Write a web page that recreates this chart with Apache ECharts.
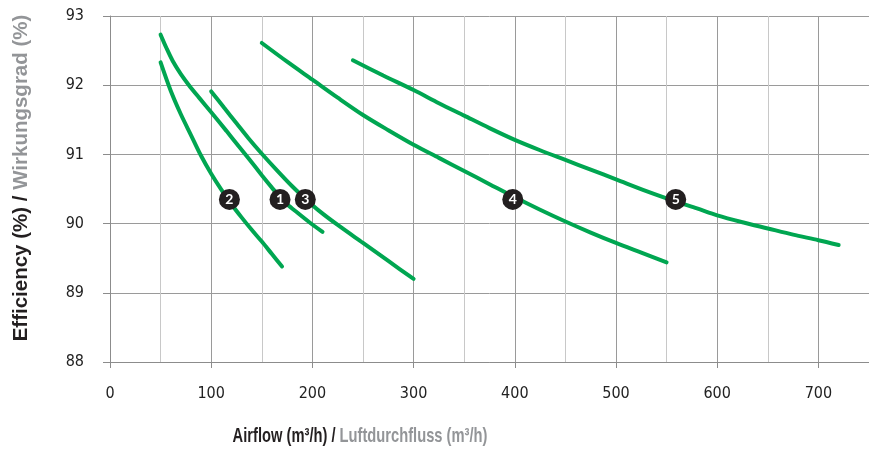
<!DOCTYPE html>
<html><head><meta charset="utf-8">
<script src="https://cdn.jsdelivr.net/npm/echarts@6/dist/echarts.min.js"></script>
<style>html,body{margin:0;padding:0;background:#fff}#c{width:869px;height:450px}</style>
</head><body><div id="c"></div>
<script>
// Curve data (Airflow m3/h, Efficiency %)
const curve1X = [50, 56, 62, 70, 78, 88, 100, 115, 127, 137, 150, 160, 168, 175, 185, 197, 210];
const curve1Y = [92.73, 92.53, 92.35, 92.16, 92.0, 91.82, 91.61, 91.34, 91.12, 90.94, 90.7, 90.52, 90.38, 90.28, 90.16, 90.02, 89.88];
const curve2X = [50, 60, 70, 80, 90, 100, 110, 120, 130, 140, 150, 160, 170];
const curve2Y = [92.33, 91.92, 91.58, 91.28, 90.98, 90.72, 90.49, 90.28, 90.09, 89.91, 89.74, 89.56, 89.38];
const curve3X = [100, 113, 125, 137, 150, 165, 180, 193, 207, 225, 250, 275, 300];
const curve3Y = [91.91, 91.67, 91.45, 91.23, 91.01, 90.77, 90.54, 90.36, 90.18, 89.98, 89.72, 89.46, 89.2];
const curve4X = [150, 175, 200, 225, 250, 275, 300, 325, 350, 375, 400, 425, 450, 475, 500, 525, 550];
const curve4Y = [92.61, 92.34, 92.08, 91.82, 91.57, 91.35, 91.14, 90.95, 90.76, 90.57, 90.38, 90.2, 90.03, 89.87, 89.72, 89.58, 89.44];
const curve5X = [240, 270, 300, 325, 350, 375, 400, 425, 450, 475, 500, 530, 559, 580, 600, 625, 650, 675, 700, 720];
const curve5Y = [92.36, 92.14, 91.93, 91.74, 91.56, 91.38, 91.21, 91.06, 90.92, 90.78, 90.64, 90.47, 90.32, 90.22, 90.12, 90.02, 89.93, 89.84, 89.76, 89.69];

// Numbered markers
const markerLabels = ['1', '2', '3', '4', '5'];
const markerX = [168, 118, 193, 398, 559];
const markerY = [90.35, 90.35, 90.35, 90.35, 90.35];

// Axis texts
const xTitleMain = 'Airflow (m³/h) / ';
const xTitleSub = 'Luftdurchfluss (m³/h)';
const yTitleMain = 'Efficiency (%) / ';
const yTitleSub = 'Wirkungsgrad (%)';

const zip = (xs, ys) => xs.map((x, i) => [x, ys[i]]);
const curves = [zip(curve1X, curve1Y), zip(curve2X, curve2Y), zip(curve3X, curve3Y), zip(curve4X, curve4Y), zip(curve5X, curve5Y)];

const GREEN = '#00a651';
const labelFont = "'Liberation Sans Narrow', 'DejaVu Sans Condensed', Roboto, sans-serif";
const titleFont = "Lato, 'Open Sans', sans-serif";

const chart = echarts.init(document.getElementById('c'), null, {renderer: 'canvas'});

const series = curves.map(d => ({
  type: 'line', data: d, smooth: 0.3, showSymbol: false, silent: true,
  lineStyle: {color: GREEN, width: 4, cap: 'round'}, z: 2
}));
series.push({
  type: 'scatter', z: 5, symbol: 'circle', symbolSize: 21, silent: true,
  itemStyle: {color: '#231f20', opacity: 1},
  data: markerX.map((x, i) => ({value: [x, markerY[i]], name: markerLabels[i]})),
  label: {show: true, position: 'inside', formatter: p => p.name, color: '#fff', fontWeight: 'bold', fontSize: 14, fontFamily: titleFont}
});

chart.setOption({
  animation: false,
  backgroundColor: '#fff',
  grid: {left: 110, top: 16, right: -8, bottom: 88, containLabel: false},
  xAxis: {
    type: 'value', min: 0, max: 750, interval: 100,
    axisLine: {show: true, lineStyle: {color: '#8c8c8c', width: 1}},
    axisTick: {show: true, length: 6, lineStyle: {color: '#8c8c8c'}},
    axisLabel: {margin: 24, color: '#222', fontSize: 16, fontFamily: labelFont, showMaxLabel: false},
    splitLine: {show: true, lineStyle: {color: '#9a9a9a', width: 1}},
    minorTick: {show: false, splitNumber: 2},
    minorSplitLine: {show: true, lineStyle: {color: '#c8c8c8', width: 1}}
  },
  yAxis: {
    type: 'value', min: 88, max: 93, interval: 1,
    axisLine: {show: true, lineStyle: {color: '#8c8c8c', width: 1}},
    axisTick: {show: true, length: 7, lineStyle: {color: '#8c8c8c'}},
    axisLabel: {margin: 26, color: '#222', fontSize: 16, fontFamily: labelFont},
    splitLine: {show: true, lineStyle: {color: '#9a9a9a', width: 1}}
  },
  graphic: [
    {
      type: 'text', x: 360, y: 436, z: 10,
      scaleX: 0.70,
      style: {
        text: '{a|' + xTitleMain + '}{b|' + xTitleSub + '}',
        font: 'bold 21px ' + titleFont,
        align: 'center', verticalAlign: 'middle',
        rich: {
          a: {font: 'bold 21px ' + titleFont, fontSize: 21, fontWeight: 'bold', fill: '#231f20'},
          b: {font: 'bold 21px ' + titleFont, fontSize: 21, fontWeight: 'bold', fill: '#939598'}
        }
      }
    },
    {
      type: 'text', x: 21, y: 178, z: 10, rotation: Math.PI / 2,
      style: {
        text: '{a|' + yTitleMain + '}{b|' + yTitleSub + '}',
        font: 'bold 20.5px ' + titleFont,
        align: 'center', verticalAlign: 'middle',
        rich: {
          a: {font: 'bold 20.5px ' + titleFont, fontSize: 20.5, fontWeight: 'bold', fill: '#231f20'},
          b: {font: 'bold 20.5px ' + titleFont, fontSize: 20.5, fontWeight: 'bold', fill: '#939598'}
        }
      }
    }
  ],
  series: series
});
</script>
</body></html>
